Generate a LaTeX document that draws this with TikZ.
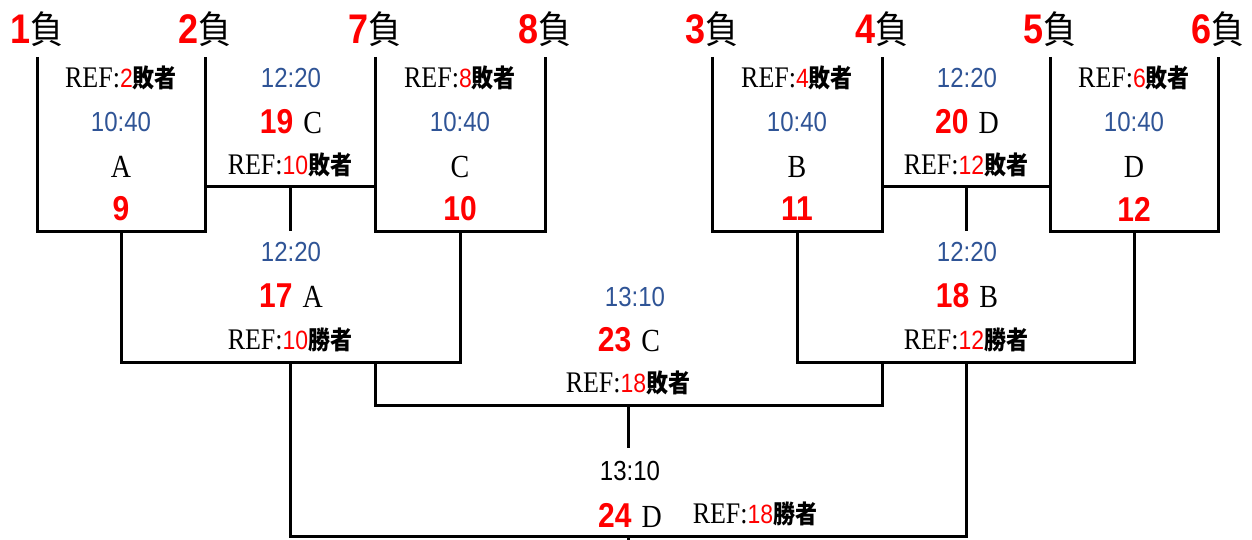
\documentclass[tikz,border=0pt]{standalone}
\usepackage{fontspec}
\usepackage{graphicx}
\setmainfont{Liberation Serif}
\newfontfamily\sansf{Liberation Sans}
\newfontfamily\jp{Noto Sans CJK JP}
\definecolor{tblue}{HTML}{2F5496}
\newcommand\xT[1]{\scalebox{1}[1.15]{#1}}
\newcommand\xTop[1]{\xT{{\fontsize{36}{36}\selectfont\sansf\bfseries\color{red}#1}{\fontsize{33}{33}\selectfont\jp 負}}}
\newcommand\xRef[2]{\xT{{\fontsize{26}{26}\selectfont REF:}{\fontsize{23}{23}\selectfont\sansf\color{red}#1}{\fontsize{22}{22}\selectfont\jp\bfseries #2}}}
\newcommand\xTm[1]{\xT{\fontsize{24}{24}\selectfont\sansf\color{tblue}#1}}
\newcommand\xTk[1]{\xT{\fontsize{24}{24}\selectfont\sansf #1}}
\newcommand\xNum[1]{\xT{\fontsize{30}{30}\selectfont\sansf\bfseries\color{red}#1}}
\newcommand\xCt[1]{\xT{\fontsize{28}{28}\selectfont #1}}
\newcommand\xGame[2]{\xT{{\fontsize{30}{30}\selectfont\sansf\bfseries\color{red}#1}\hspace{10pt}{\fontsize{28}{28}\selectfont #2}}}
\begin{document}
\begin{tikzpicture}[x=1pt,y=-1pt,
  txt/.style={inner sep=0pt,anchor=center},
  bline/.style={draw=black,line width=3pt,line join=miter}]
\useasboundingbox (0,0) rectangle (1252,540);
% coordinates
\coordinate (p1) at (37,57);
\coordinate (p2) at (205,57);
\coordinate (p7) at (375,57);
\coordinate (p8) at (545,57);
\coordinate (p3) at (712,57);
\coordinate (p4) at (882,57);
\coordinate (p5) at (1050,57);
\coordinate (p6) at (1218,57);
\coordinate (m9) at (121,231);
\coordinate (m10) at (460,231);
\coordinate (m11) at (797,231);
\coordinate (m12) at (1134,231);
\coordinate (j19) at (290,187);
\coordinate (j20) at (966,187);
\coordinate (m17) at (290,362);
\coordinate (m18) at (966,362);
\coordinate (m23) at (628,405);
\coordinate (t24) at (628,448);
\coordinate (m24) at (628,536);
\coordinate (e24) at (628,542);
% lines
\draw[bline] (p1) |- (m9) -| (p2);
\draw[bline] (p7) |- (m10) -| (p8);
\draw[bline] (p3) |- (m11) -| (p4);
\draw[bline] (p5) |- (m12) -| (p6);
\draw[bline] (p2 |- j19) -- (p7 |- j19);
\draw[bline] (j19) -- (j19 |- m9);
\draw[bline] (p4 |- j20) -- (p5 |- j20);
\draw[bline] (j20) -- (j20 |- m11);
\draw[bline] (m9) |- (m17) -| (m10);
\draw[bline] (m11) |- (m18) -| (m12);
\draw[bline] (p7 |- m17) |- (m23) -| (p4 |- m18);
\draw[bline] (m23) -- (t24);
\draw[bline] (m17) |- (m24) -| (m18);
\draw[bline] (m24) -- (e24);
% top labels
\node[txt] (l1) at (37,29) {\xTop{1}};
\node[txt] (l2) at (205,29) {\xTop{2}};
\node[txt] (l7) at (375,29) {\xTop{7}};
\node[txt] (l8) at (545,29) {\xTop{8}};
\node[txt] (l3) at (712,29) {\xTop{3}};
\node[txt] (l4) at (882,29) {\xTop{4}};
\node[txt] (l5) at (1050,29) {\xTop{5}};
\node[txt] (l6) at (1218,29) {\xTop{6}};
% game 9
\node[txt] (r9) at (121,78) {\xRef{2}{敗者}};
\node[txt] (s9) at (121,122) {\xTm{10:40}};
\node[txt] (c9) at (121,167) {\xCt{A}};
\node[txt] (n9) at (121,209) {\xNum{9}};
% game 10
\node[txt] (r10) at (460,78) {\xRef{8}{敗者}};
\node[txt] (s10) at (460,122) {\xTm{10:40}};
\node[txt] (c10) at (460,167) {\xCt{C}};
\node[txt] (n10) at (460,209) {\xNum{10}};
% game 19
\node[txt] (s19) at (291,78) {\xTm{12:20}};
\node[txt] (g19) at (291,122) {\xGame{19}{C}};
\node[txt] (r19) at (290,165) {\xRef{10}{敗者}};
% game 11
\node[txt] (r11) at (797,78) {\xRef{4}{敗者}};
\node[txt] (s11) at (797,122) {\xTm{10:40}};
\node[txt] (c11) at (797,167) {\xCt{B}};
\node[txt] (n11) at (797,209) {\xNum{11}};
% game 12
\node[txt] (r12) at (1134,78) {\xRef{6}{敗者}};
\node[txt] (s12) at (1134,122) {\xTm{10:40}};
\node[txt] (c12) at (1134,167) {\xCt{D}};
\node[txt] (n12) at (1134,209) {\xNum{12}};
% game 20
\node[txt] (s20) at (967,78) {\xTm{12:20}};
\node[txt] (g20) at (967,122) {\xGame{20}{D}};
\node[txt] (r20) at (966,165) {\xRef{12}{敗者}};
% game 17
\node[txt] (s17) at (291,252) {\xTm{12:20}};
\node[txt] (g17) at (291,296) {\xGame{17}{A}};
\node[txt] (r17) at (290,340) {\xRef{10}{勝者}};
% game 18
\node[txt] (s18) at (967,252) {\xTm{12:20}};
\node[txt] (g18) at (967,296) {\xGame{18}{B}};
\node[txt] (r18) at (966,340) {\xRef{12}{勝者}};
% game 23
\node[txt] (s23) at (635,297) {\xTm{13:10}};
\node[txt] (g23) at (629,340) {\xGame{23}{C}};
\node[txt] (r23) at (628,383) {\xRef{18}{敗者}};
% game 24
\node[txt] (s24) at (630,471) {\xTk{13:10}};
\node[txt] (g24) at (630,515) {\xGame{24}{D}};
\node[txt] (r24) at (755,514) {\xRef{18}{勝者}};
\end{tikzpicture}
\end{document}
